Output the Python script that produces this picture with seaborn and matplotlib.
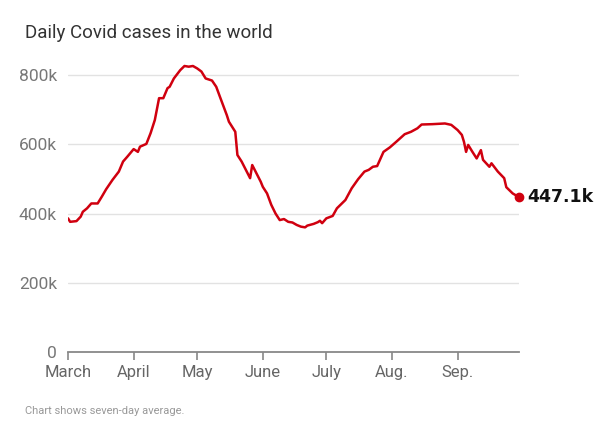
import pandas as pd
import matplotlib

matplotlib.use('Agg')
import matplotlib.pyplot as plt
import seaborn as sns

sns.set_style('white')
plt.rcParams['font.family'] = ['Roboto', 'DejaVu Sans']

# seven-day average of daily cases, in thousands
dates = [
    '2021-03-01', '2021-03-02', '2021-03-05', '2021-03-07', '2021-03-08', '2021-03-10',
    '2021-03-12', '2021-03-15', '2021-03-17', '2021-03-19', '2021-03-22', '2021-03-25',
    '2021-03-27', '2021-03-29', '2021-04-01', '2021-04-03', '2021-04-04', '2021-04-07',
    '2021-04-09', '2021-04-11', '2021-04-13', '2021-04-15', '2021-04-17', '2021-04-18',
    '2021-04-20', '2021-04-23', '2021-04-25', '2021-04-27', '2021-04-29', '2021-05-01',
    '2021-05-03', '2021-05-05', '2021-05-08', '2021-05-10', '2021-05-12', '2021-05-15',
    '2021-05-16', '2021-05-19', '2021-05-20', '2021-05-22', '2021-05-24', '2021-05-26',
    '2021-05-27', '2021-05-29', '2021-05-31', '2021-06-01', '2021-06-03', '2021-06-05',
    '2021-06-07', '2021-06-09', '2021-06-11', '2021-06-13', '2021-06-15', '2021-06-17',
    '2021-06-19', '2021-06-21', '2021-06-22', '2021-06-25', '2021-06-27', '2021-06-28',
    '2021-06-29', '2021-07-01', '2021-07-04', '2021-07-06', '2021-07-10', '2021-07-13',
    '2021-07-16', '2021-07-19', '2021-07-21', '2021-07-23', '2021-07-25', '2021-07-28',
    '2021-07-31', '2021-08-03', '2021-08-07', '2021-08-10', '2021-08-13', '2021-08-15',
    '2021-08-20', '2021-08-26', '2021-08-29', '2021-09-01', '2021-09-03', '2021-09-04',
    '2021-09-05', '2021-09-06', '2021-09-08', '2021-09-10', '2021-09-12', '2021-09-13',
    '2021-09-16', '2021-09-17', '2021-09-20', '2021-09-23', '2021-09-24', '2021-09-27',
    '2021-09-30',
]
cases_k = [
    386, 376, 378, 391, 405, 415,
    429, 429, 449, 470, 497, 521,
    550, 564, 586, 578, 593, 601,
    632, 670, 733, 733, 762, 766,
    790, 814, 826, 824, 826, 819,
    810, 790, 784, 766, 733, 684,
    665, 636, 569, 550, 526, 502,
    540, 516, 492, 477, 458, 425,
    400, 381, 384, 376, 374, 367,
    362, 360, 365, 370, 375, 379,
    372, 386, 393, 415, 439, 473,
    499, 521, 526, 535, 537, 578,
    591, 607, 629, 636, 646, 657,
    658, 660, 656, 641, 627, 607,
    578, 598, 578, 559, 583, 555,
    535, 545, 521, 502, 476, 458,
    447.1,
]
month_starts = ['2021-03-01', '2021-04-01', '2021-05-01', '2021-06-01',
                '2021-07-01', '2021-08-01', '2021-09-01']
month_labels = ['March', 'April', 'May', 'June', 'July', 'Aug.', 'Sep.']
y_ticks = [0, 200, 400, 600, 800]
y_labels = ['0', '200k', '400k', '600k', '800k']

df = pd.DataFrame({'date': pd.to_datetime(dates), 'cases': cases_k})

red = '#d0000f'
fig = plt.figure(figsize=(6.04, 4.37), dpi=100)
ax = fig.add_axes([0.1126, 0.1945, 0.7467, 0.6735])

sns.lineplot(data=df, x='date', y='cases', color=red, linewidth=1.8, ax=ax)
last = df.iloc[-1]
ax.plot(last['date'], last['cases'], 'o', color=red, markersize=6, zorder=5,
        clip_on=False)
ax.annotate(f"{last['cases']:.1f}k", (last['date'], last['cases']),
            xytext=(6, 0), textcoords='offset points', va='center', ha='left',
            fontsize=12.5, fontweight='bold', color='#111111',
            family=['DejaVu Sans'], annotation_clip=False)

ax.set_xlim(df['date'].iloc[0], df['date'].iloc[-1])
ax.set_ylim(0, 850)
ax.set_yticks(y_ticks)
ax.set_yticklabels(y_labels)
ax.set_xticks(pd.to_datetime(month_starts))
ax.set_xticklabels(month_labels)
ax.set_xlabel('')
ax.set_ylabel('')

for v in y_ticks[1:]:
    ax.axhline(v, color='#e2e2e2', linewidth=1, zorder=0)

for s in ['top', 'right', 'left']:
    ax.spines[s].set_visible(False)
ax.spines['bottom'].set_color('#888888')
ax.spines['bottom'].set_linewidth(1.3)
ax.tick_params(axis='x', direction='out', length=6, width=1.2, color='#888888',
               labelsize=12, labelcolor='#666666', pad=3, bottom=True)
ax.tick_params(axis='y', length=0, labelsize=12.5, labelcolor='#777777', pad=8)

fig.text(0.041, 0.924, 'Daily Covid cases in the world', fontsize=13.5,
         color='#333333', va='center', ha='left')
fig.text(0.041, 0.06, 'Chart shows seven-day average.', fontsize=8,
         color='#999999', va='center', ha='left')

fig.savefig('out.png', dpi=100)
